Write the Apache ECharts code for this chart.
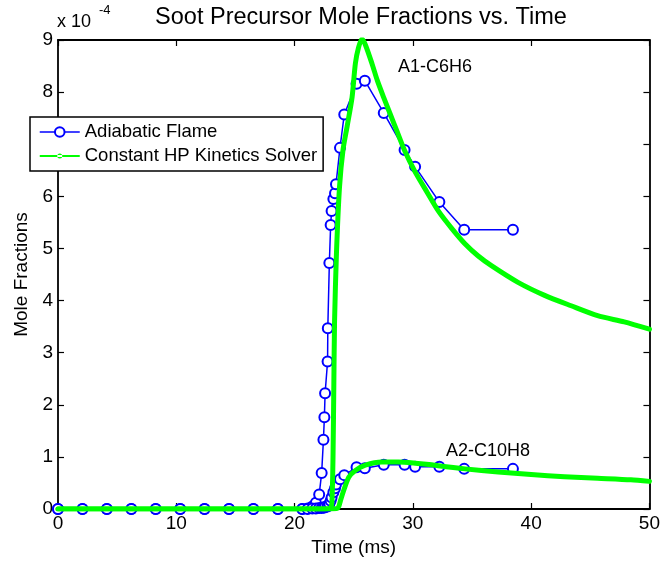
<!DOCTYPE html>
<html><head><meta charset="utf-8">
<script src="https://cdn.jsdelivr.net/npm/echarts@6/dist/echarts.min.js"></script>
<style>html,body{margin:0;padding:0;background:#fff}#c{width:663px;height:562px}</style>
</head><body><div id="c"></div>
<script>
// ---- data (mole fractions in units of 1e-4, time in ms) ----
const flameTime = [0, 2.07, 4.13, 6.2, 8.26, 10.33, 12.39, 14.46, 16.52, 18.59, 20.65,
  21.1, 21.5, 21.8, 22.08, 22.29, 22.44, 22.52, 22.58, 22.79, 22.81, 22.94, 23.05, 23.13,
  23.28, 23.42, 23.5, 23.84, 24.2, 25.24, 25.94, 27.54, 29.3, 30.19, 32.24, 34.34, 38.46];
const flameA1 = [0, 0, 0, 0, 0, 0, 0, 0, 0, 0, 0,
  0.01, 0.05, 0.12, 0.28, 0.69, 1.33, 1.76, 2.22, 2.83, 3.47, 4.72, 5.45, 5.72,
  5.95, 6.06, 6.23, 6.93, 7.57, 8.16, 8.22, 7.6, 6.89, 6.57, 5.89, 5.36, 5.36];
const flameA2 = [0, 0, 0, 0, 0, 0, 0, 0, 0, 0, 0,
  0, 0.01, 0.01, 0.02, 0.02, 0.03, 0.03, 0.04, 0.05, 0.06, 0.1, 0.16, 0.22,
  0.32, 0.4, 0.47, 0.57, 0.65, 0.8, 0.78, 0.85, 0.85, 0.81, 0.81, 0.77, 0.77];

const solverTimeA1 = [0, 5, 10, 15, 20, 22.5, 23.0, 23.15, 23.25, 23.32, 23.38, 23.54, 23.8,
  24.1, 24.45, 24.86, 25.14, 25.4, 25.7, 26.0, 26.54, 27.0, 27.53, 28.1, 28.64, 29.3, 30.19, 31.2,
  32.15, 33.3, 34.4, 35.5, 36.64, 38.89, 41.14, 43.38, 45.62, 47.87, 50];
const solverA1 = [0, 0, 0, 0, 0, 0, 0.02, 0.1, 1.0, 2.4, 3.6, 4.9, 6.18,
  6.9, 7.35, 7.9, 8.55, 8.85, 9.02, 8.9, 8.55, 8.22, 7.9, 7.57, 7.26, 6.88, 6.47, 6.08,
  5.72, 5.38, 5.09, 4.86, 4.67, 4.35, 4.1, 3.9, 3.71, 3.59, 3.45];

const solverTimeA2 = [0, 5, 10, 15, 20, 23.0, 23.6, 23.74, 23.88, 24.16, 24.58, 25.14, 25.98, 27.38,
  28.79, 30.2, 31.59, 32.15, 34.4, 37.21, 40.0, 42.82, 45.62, 48.43, 50];
const solverA2 = [0, 0, 0, 0, 0, 0, 0.01, 0.05, 0.16, 0.36, 0.61, 0.74, 0.84, 0.9,
  0.9, 0.88, 0.85, 0.83, 0.77, 0.71, 0.66, 0.62, 0.59, 0.56, 0.53];

const xTickValues = [0, 10, 20, 30, 40, 50];
const yTickValues = [0, 1, 2, 3, 4, 5, 6, 7, 8, 9];

const titleText = 'Soot Precursor Mole Fractions vs. Time';
const seriesNames = ['Adiabatic Flame', 'Constant HP Kinetics Solver'];
const labelA1 = 'A1-C6H6';
const labelA2 = 'A2-C10H8';

// ---- chart ----
const FONT = 'Liberation Sans, Arial, Helvetica, sans-serif';
const BLUE = '#0000ff', GREEN = '#00ff00';
const zip = (xs, ys) => xs.map((x, i) => [x, ys[i]]);

const chart = echarts.init(document.getElementById('c'), null, {renderer: 'canvas'});

const axisCommon = {
  type: 'value',
  axisLine: {show: true, onZero: false, lineStyle: {color: '#000', width: 1.8}},
  axisTick: {show: true, inside: true, length: 6, lineStyle: {color: '#000', width: 1.2}},
  splitLine: {show: false}
};

const greenDot = 'path://M0,5H40V7H0Z M17.5,6a2.5,2.5 0 1,0 5,0a2.5,2.5 0 1,0 -5,0Z';

chart.setOption({
  animation: false,
  backgroundColor: '#fff',
  textStyle: {fontFamily: FONT},
  title: {
    text: titleText, left: 356, textAlign: 'center', top: 1,
    textStyle: {fontFamily: FONT, fontSize: 23.5, fontWeight: 'normal', color: '#000'}
  },
  grid: {left: 58, right: 11, top: 40, bottom: 53, containLabel: false},
  legend: {
    left: 30, top: 117, orient: 'vertical',
    itemWidth: 40, itemHeight: 12, itemGap: 4,
    padding: [5, 6, 5, 9],
    backgroundColor: '#fff', borderColor: '#000', borderWidth: 1.5, borderRadius: 0,
    textStyle: {fontFamily: FONT, fontSize: 18.5, color: '#000', lineHeight: 20},
    data: [
      {name: seriesNames[0], lineStyle: {width: 1.5}},
      {name: seriesNames[1], icon: greenDot}
    ],
    z: 10
  },
  xAxis: [
    Object.assign({}, axisCommon, {
      min: 0, max: 50, interval: 10, position: 'bottom',
      name: 'Time (ms)', nameLocation: 'middle', nameGap: 29,
      nameTextStyle: {fontFamily: FONT, fontSize: 19, color: '#000'},
      axisLabel: {show: true, margin: 5, fontFamily: FONT, fontSize: 19, color: '#000',
        formatter: v => xTickValues.includes(v) ? String(v) : ''}
    }),
    Object.assign({}, axisCommon, {
      min: 0, max: 50, interval: 10, position: 'top', axisLabel: {show: false}
    })
  ],
  yAxis: [
    Object.assign({}, axisCommon, {
      min: 0, max: 9, interval: 1, position: 'left',
      name: 'Mole Fractions', nameLocation: 'middle', nameGap: 27,
      nameTextStyle: {fontFamily: FONT, fontSize: 19, color: '#000'},
      axisLabel: {show: true, margin: 5, fontFamily: FONT, fontSize: 19, color: '#000',
        formatter: v => yTickValues.includes(v) ? String(v) : ''}
    }),
    Object.assign({}, axisCommon, {
      min: 0, max: 9, interval: 1, position: 'right', axisLabel: {show: false}
    })
  ],
  series: [
    {
      name: seriesNames[0], type: 'line', data: zip(flameTime, flameA1),
      symbol: 'emptyCircle', symbolSize: 10, showAllSymbol: true,
      lineStyle: {color: BLUE, width: 1.5},
      itemStyle: {color: BLUE, borderColor: BLUE, borderWidth: 1.5},
      z: 2
    },
    {
      name: seriesNames[0], type: 'line', data: zip(flameTime, flameA2),
      symbol: 'emptyCircle', symbolSize: 10, showAllSymbol: true,
      lineStyle: {color: BLUE, width: 1.5},
      itemStyle: {color: BLUE, borderColor: BLUE, borderWidth: 1.5},
      z: 2
    },
    {
      name: seriesNames[1], type: 'line', data: zip(solverTimeA1, solverA1),
      symbol: 'none', smooth: 0.25,
      lineStyle: {color: GREEN, width: 5, join: 'round', cap: 'round'},
      itemStyle: {color: GREEN},
      z: 3
    },
    {
      name: seriesNames[1], type: 'line', data: zip(solverTimeA2, solverA2),
      symbol: 'none', smooth: 0.25,
      lineStyle: {color: GREEN, width: 5, join: 'round', cap: 'round'},
      itemStyle: {color: GREEN},
      z: 3
    }
  ],
  graphic: [
    {type: 'text', left: 398, top: 58, z: 20,
      style: {text: labelA1, fontFamily: FONT, fontSize: 18, fill: '#000'}},
    {type: 'text', left: 446, top: 442, z: 20,
      style: {text: labelA2, fontFamily: FONT, fontSize: 18, fill: '#000'}},
    {type: 'text', left: 57, top: 13, z: 20,
      style: {text: 'x 10', fontFamily: FONT, fontSize: 18, fill: '#000'}},
    {type: 'text', left: 99, top: 4, z: 20,
      style: {text: '-4', fontFamily: FONT, fontSize: 13, fill: '#000'}}
  ]
});
</script>
</body></html>
